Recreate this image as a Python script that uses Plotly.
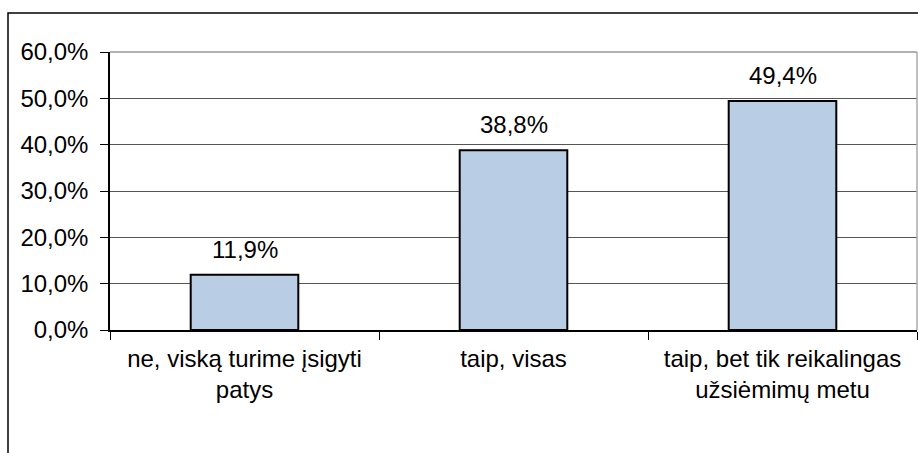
import plotly.graph_objects as go

categories = ["ne, viską turime įsigyti<br>patys", "taip, visas", "taip, bet tik reikalingas<br>užsiėmimų metu"]
values = [0.119, 0.388, 0.494]
labels = ["11,9%", "38,8%", "49,4%"]
y_ticks = [0, 0.1, 0.2, 0.3, 0.4, 0.5, 0.6]

W, H = 918, 453
L, R, T, B = 110, 1, 52, 123
pw, ph = W - L - R, H - T - B
FONT = "Liberation Sans, Arial"
FS = 24

def px_x(p):
    return (p - L) / pw

def px_y(p):
    return (H - B - p) / ph

fig = go.Figure()
fig.add_trace(go.Bar(
    x=categories, y=values,
    marker=dict(color="#B9CDE5", line=dict(color="black", width=2)),
    width=0.4,
))
for c, v, t in zip(categories, values, labels):
    fig.add_annotation(x=c, y=v, text=t, showarrow=False, yanchor="bottom",
                       yshift=10, font=dict(family=FONT, size=FS, color="black"))

fig.update_layout(
    width=W, height=H,
    margin=dict(l=L, r=R, t=T, b=B),
    paper_bgcolor="white", plot_bgcolor="white",
    separators=",.",
    showlegend=False,
    font=dict(family=FONT, size=FS, color="black"),
    bargap=0.6,
)
fig.update_yaxes(
    range=[0, 0.6], tickvals=y_ticks, tickformat=".1%",
    showgrid=True, gridcolor="#555555", gridwidth=1,
    showline=True, linecolor="black", linewidth=1.5,
    ticks="outside", ticklen=8, tickcolor="black",
    ticklabelstandoff=7, zeroline=False,
)
fig.update_xaxes(
    showline=True, linecolor="black", linewidth=1.5,
    ticks="outside", ticklen=8, tickcolor="black", tickson="boundaries",
    ticklabelstandoff=6,
)
# plot area right/top border
fig.add_shape(type="line", xref="paper", yref="paper", x0=1, x1=1, y0=0, y1=1,
              line=dict(color="#AAAAAA", width=1.5))
fig.add_shape(type="line", xref="paper", yref="paper", x0=0, x1=1, y0=1, y1=1,
              line=dict(color="#999999", width=1.5))
# outer chart border
fig.add_shape(type="rect", xref="paper", yref="paper",
              x0=px_x(8), x1=px_x(921), y0=px_y(470), y1=px_y(13),
              line=dict(color="black", width=1.5), fillcolor="rgba(0,0,0,0)", layer="below")

fig.write_html("out.html", config={"displayModeBar": False},
               post_script="document.body.style.margin='0';document.body.style.overflow='hidden';")
